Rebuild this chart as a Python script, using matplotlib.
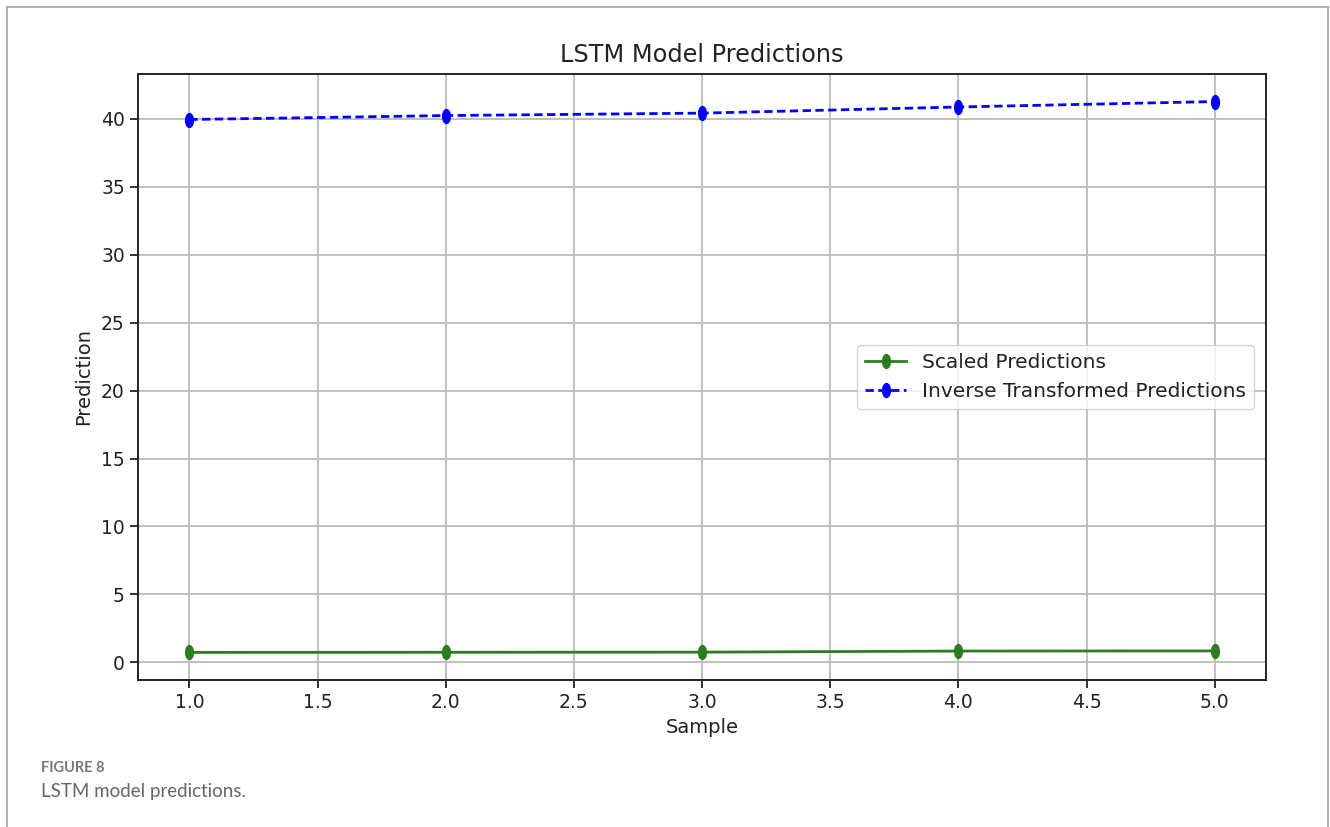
import numpy as np
import matplotlib
matplotlib.use("Agg")
import matplotlib.pyplot as plt
from matplotlib.path import Path
from matplotlib.markers import MarkerStyle
from matplotlib.lines import Line2D
from matplotlib.font_manager import FontProperties

plt.rcParams['font.family'] = ['DejaVu Sans']
FAM = 'DejaVu Sans'

samples = [1, 2, 3, 4, 5]
scaled_pred = [0.74, 0.75, 0.76, 0.84, 0.85]
inverse_pred = [39.93, 40.22, 40.40, 40.85, 41.25]
title = "LSTM Model Predictions"
xlabel = "Sample"
ylabel = "Prediction"
labels = ["Scaled Predictions", "Inverse Transformed Predictions"]

# slightly squashed (elliptical) marker, as in the reference image
circ = Path.unit_circle()
ell = Path(circ.vertices * np.array([0.56, 1.0]), circ.codes)
mk = MarkerStyle(ell)

fig = plt.figure(figsize=(13.3, 8.27), dpi=100)
ax = fig.add_axes([0.1038, 0.1778, 0.8481, 0.7327])

ax.plot(samples, scaled_pred, color='#2b7d1f', marker=mk, markersize=10,
        linewidth=2.0, label=labels[0])
ax.plot(samples, inverse_pred, color='#0000ff', marker=mk, markersize=10,
        linewidth=2.0, linestyle=(0, (3.0, 1.6)), label=labels[1])

ax.set_xticks(np.arange(1.0, 5.01, 0.5))
ax.set_yticks(np.arange(0, 41, 5))
ax.grid(True, color='#c0c0c0', linewidth=1.4)
ax.set_axisbelow(True)
for s in ax.spines.values():
    s.set_linewidth(1.4)
    s.set_color('#222222')
ax.tick_params(colors='#222222', length=6, width=1.3)
tick_fp = FontProperties(family=FAM, size=13.5)
for lab in ax.get_xticklabels() + ax.get_yticklabels():
    lab.set_fontproperties(tick_fp)
ax.set_title(title, fontsize=17.3, family=FAM, color='#222222', pad=9)
ax.set_xlabel(xlabel, fontsize=14, family=FAM, color='#222222', labelpad=4)
ax.set_ylabel(ylabel, fontsize=14, family=FAM, color='#222222', labelpad=6)
leg = ax.legend(loc='center right', prop=FontProperties(family=FAM, size=14.5),
                framealpha=0.8, borderaxespad=0.6)
for t in leg.get_texts():
    t.set_color('#222222')

# page frame
frame_kw = dict(transform=fig.transFigure, color='#aaaaaa', linewidth=1.3)
fig.add_artist(Line2D([7/1330, 1328/1330], [1-7/827, 1-7/827], **frame_kw))
fig.add_artist(Line2D([7/1330, 7/1330], [1-7/827, 0], **frame_kw))
fig.add_artist(Line2D([1328/1330, 1328/1330], [1-7/827, 0], **frame_kw))

# caption
fig.text(41/1330, 1-768/827, "FIGURE 8", fontsize=10.5, color='#777777',
         family='Lato', fontweight='bold', va='center')
fig.text(41/1330, 1-791/827, "LSTM model predictions.", fontsize=13.5,
         color='#666666', family='Lato', va='center')

fig.savefig("out.png", dpi=100)
